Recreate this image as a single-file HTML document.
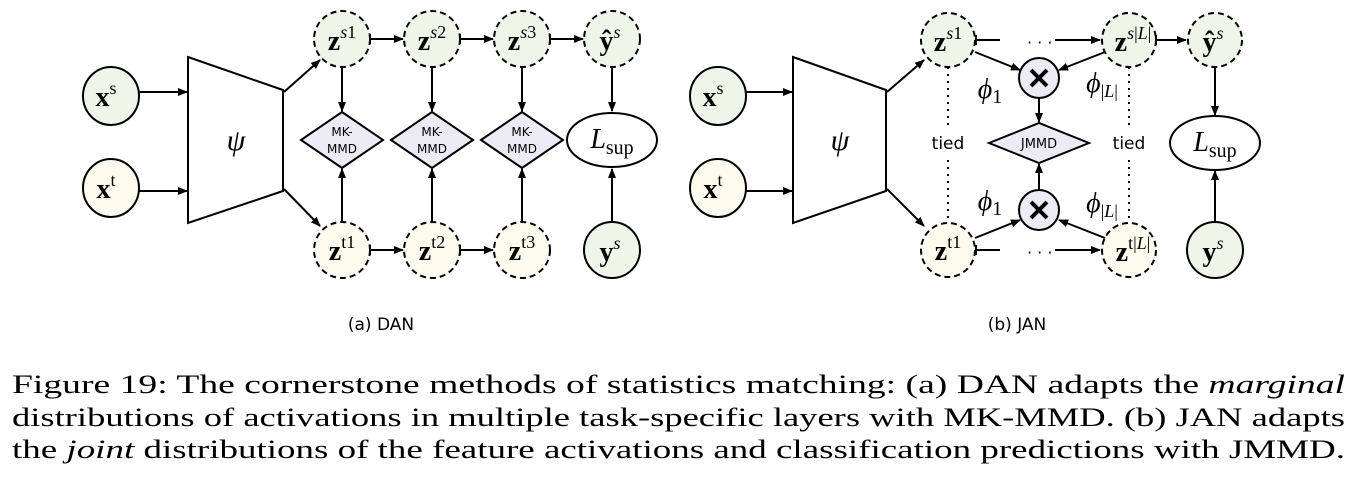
<!DOCTYPE html>
<html><head><meta charset="utf-8"><style>
html,body{margin:0;padding:0;background:#fff}
svg{display:block}
.m{font-family:"Liberation Serif",serif}
.s{font-family:"DejaVu Sans","Liberation Sans",sans-serif}
</style></head><body>
<svg width="1358" height="498" viewBox="0 0 1358 498" xmlns="http://www.w3.org/2000/svg">
<defs>
<marker id="a" markerWidth="10" markerHeight="8" refX="9" refY="4" orient="auto" markerUnits="userSpaceOnUse"><path d="M0,0 L10,4 L0,8 z" fill="#000"/></marker>
</defs>
<g stroke="#000" stroke-width="2" fill="none">
<!-- DAN -->
<ellipse cx="111" cy="96" rx="28" ry="29" fill="#eef6ea"/>
<ellipse cx="111" cy="188" rx="28" ry="29" fill="#fcfbee"/>
<line x1="139" y1="92" x2="187" y2="92" marker-end="url(#a)"/>
<line x1="139" y1="191" x2="187" y2="191" marker-end="url(#a)"/>
<path d="M188,57 L283,90 L283,191 L188,223 Z" fill="#fff"/>
<line x1="284" y1="92" x2="320" y2="60" marker-end="url(#a)"/>
<line x1="284" y1="189" x2="320" y2="226" marker-end="url(#a)"/>
<g stroke-dasharray="6,4">
<circle cx="342" cy="39" r="28" fill="#eef6ea"/>
<circle cx="432" cy="39" r="28" fill="#eef6ea"/>
<circle cx="522" cy="39" r="28" fill="#eef6ea"/>
<circle cx="612" cy="39" r="28" fill="#eef6ea"/>
<circle cx="342" cy="250" r="28" fill="#fcfbee"/>
<circle cx="432" cy="250" r="28" fill="#fcfbee"/>
<circle cx="522" cy="250" r="28" fill="#fcfbee"/>
</g>
<circle cx="612" cy="250" r="28" fill="#eef6ea"/>
<line x1="370" y1="39" x2="403" y2="39" marker-end="url(#a)"/><line x1="370" y1="34" x2="370" y2="44"/>
<line x1="460" y1="39" x2="493" y2="39" marker-end="url(#a)"/><line x1="460" y1="34" x2="460" y2="44"/>
<line x1="550" y1="39" x2="583" y2="39" marker-end="url(#a)"/><line x1="550" y1="34" x2="550" y2="44"/>
<line x1="370" y1="250" x2="403" y2="250" marker-end="url(#a)"/><line x1="370" y1="245" x2="370" y2="255"/>
<line x1="460" y1="250" x2="493" y2="250" marker-end="url(#a)"/><line x1="460" y1="245" x2="460" y2="255"/>
<path d="M301,140 L342,112 L383,140 L342,168 Z" fill="#eceaf4"/>
<path d="M391,140 L432,112 L473,140 L432,168 Z" fill="#eceaf4"/>
<path d="M481,140 L522,112 L563,140 L522,168 Z" fill="#eceaf4"/>
<line x1="342" y1="67" x2="342" y2="111" marker-end="url(#a)"/>
<line x1="432" y1="67" x2="432" y2="111" marker-end="url(#a)"/>
<line x1="522" y1="67" x2="522" y2="111" marker-end="url(#a)"/>
<line x1="612" y1="67" x2="612" y2="111" marker-end="url(#a)"/>
<line x1="342" y1="222" x2="342" y2="169" marker-end="url(#a)"/>
<line x1="432" y1="222" x2="432" y2="169" marker-end="url(#a)"/>
<line x1="522" y1="222" x2="522" y2="169" marker-end="url(#a)"/>
<line x1="612" y1="222" x2="612" y2="169" marker-end="url(#a)"/>
<ellipse cx="612" cy="140" rx="45" ry="27" fill="#fff"/>
<!-- JAN -->
<ellipse cx="718" cy="96" rx="28" ry="29" fill="#eef6ea"/>
<ellipse cx="718" cy="188" rx="28" ry="29" fill="#fcfbee"/>
<line x1="746" y1="92" x2="792" y2="92" marker-end="url(#a)"/>
<line x1="746" y1="191" x2="792" y2="191" marker-end="url(#a)"/>
<path d="M793,57 L886,90 L886,191 L793,223 Z" fill="#fff"/>
<line x1="887" y1="92" x2="924" y2="60" marker-end="url(#a)"/>
<line x1="887" y1="189" x2="924" y2="226" marker-end="url(#a)"/>
<g stroke-dasharray="2,5" stroke-width="2"><line x1="948" y1="67" x2="948" y2="125"/><line x1="948" y1="160" x2="948" y2="222"/><line x1="1129" y1="67" x2="1129" y2="125"/><line x1="1129" y1="160" x2="1129" y2="222"/></g>
<g stroke-dasharray="6,4">
<circle cx="948" cy="40" r="27" fill="#eef6ea"/>
<circle cx="1129" cy="40" r="27" fill="#eef6ea"/>
<circle cx="1215" cy="40" r="27" fill="#eef6ea"/>
<circle cx="948" cy="250" r="27" fill="#fcfbee"/>
<circle cx="1129" cy="250" r="27" fill="#fcfbee"/>
</g>
<circle cx="1215" cy="250" r="28" fill="#eef6ea"/>
<line x1="976" y1="40" x2="1000" y2="40"/><line x1="976" y1="35" x2="976" y2="45"/>
<line x1="1055" y1="40" x2="1100" y2="40" marker-end="url(#a)"/>
<line x1="976" y1="250" x2="1000" y2="250"/><line x1="976" y1="245" x2="976" y2="255"/>
<line x1="1055" y1="250" x2="1100" y2="250" marker-end="url(#a)"/>
<line x1="1156" y1="40" x2="1186" y2="40" marker-end="url(#a)"/><line x1="1156" y1="35" x2="1156" y2="45"/>
<line x1="975" y1="52" x2="1020" y2="70" marker-end="url(#a)"/>
<line x1="1105" y1="52" x2="1059" y2="70" marker-end="url(#a)"/>
<line x1="975" y1="238" x2="1020" y2="220" marker-end="url(#a)"/>
<line x1="1105" y1="238" x2="1059" y2="220" marker-end="url(#a)"/>
<circle cx="1039" cy="78" r="20" fill="#eceaf4"/>
<circle cx="1039" cy="210" r="20" fill="#eceaf4"/>
<path d="M1031,70 L1047,86 M1047,70 L1031,86" stroke-width="4"/>
<path d="M1031,202 L1047,218 M1047,202 L1031,218" stroke-width="4"/>
<line x1="1039" y1="98" x2="1039" y2="122" marker-end="url(#a)"/>
<line x1="1039" y1="190" x2="1039" y2="164" marker-end="url(#a)"/>
<path d="M989,143 L1039,123 L1089,143 L1039,163 Z" fill="#eceaf4"/>
<line x1="1215" y1="67" x2="1215" y2="115" marker-end="url(#a)"/>
<line x1="1215" y1="222" x2="1215" y2="171" marker-end="url(#a)"/>
<ellipse cx="1215" cy="143" rx="45" ry="27" fill="#fff"/>
</g>
<g fill="#000">
<text class="s" x="1027" y="48" font-size="16">· · ·</text>
<text class="s" x="1027" y="258" font-size="16">· · ·</text>
<g class="m" font-size="28" text-anchor="middle">
<text x="106" y="106"><tspan font-weight="bold">x</tspan><tspan font-size="18" dy="-12">s</tspan></text>
<text x="106" y="198"><tspan font-weight="bold">x</tspan><tspan font-size="18" dy="-12">t</tspan></text>
<text x="713" y="106"><tspan font-weight="bold">x</tspan><tspan font-size="18" dy="-12">s</tspan></text>
<text x="713" y="198"><tspan font-weight="bold">x</tspan><tspan font-size="18" dy="-12">t</tspan></text>
<text x="236" y="150" font-style="italic" font-size="30">ψ</text>
<text x="840" y="150" font-style="italic" font-size="30">ψ</text>
<text x="342" y="50"><tspan font-weight="bold">z</tspan><tspan font-size="18" dy="-12" font-style="italic">s</tspan><tspan font-size="18">1</tspan></text>
<text x="432" y="50"><tspan font-weight="bold">z</tspan><tspan font-size="18" dy="-12" font-style="italic">s</tspan><tspan font-size="18">2</tspan></text>
<text x="522" y="50"><tspan font-weight="bold">z</tspan><tspan font-size="18" dy="-12" font-style="italic">s</tspan><tspan font-size="18">3</tspan></text>
<text x="610" y="50"><tspan font-weight="bold">ŷ</tspan><tspan font-size="18" dy="-12" font-style="italic">s</tspan></text>
<text x="342" y="260"><tspan font-weight="bold">z</tspan><tspan font-size="18" dy="-12">t1</tspan></text>
<text x="432" y="260"><tspan font-weight="bold">z</tspan><tspan font-size="18" dy="-12">t2</tspan></text>
<text x="522" y="260"><tspan font-weight="bold">z</tspan><tspan font-size="18" dy="-12">t3</tspan></text>
<text x="610" y="261"><tspan font-weight="bold">y</tspan><tspan font-size="18" dy="-12" font-style="italic">s</tspan></text>
<text x="612" y="148"><tspan font-style="italic">L</tspan><tspan font-size="20" dy="6">sup</tspan></text>
<text x="948" y="51"><tspan font-weight="bold">z</tspan><tspan font-size="18" dy="-12" font-style="italic">s</tspan><tspan font-size="18">1</tspan></text>
<text x="1133" y="51"><tspan font-weight="bold">z</tspan><tspan font-size="18" dy="-12" font-style="italic">s</tspan><tspan font-size="18">|</tspan><tspan font-size="18" font-style="italic">L</tspan><tspan font-size="18">|</tspan></text>
<text x="1213" y="51"><tspan font-weight="bold">ŷ</tspan><tspan font-size="18" dy="-12" font-style="italic">s</tspan></text>
<text x="948" y="260"><tspan font-weight="bold">z</tspan><tspan font-size="18" dy="-12">t1</tspan></text>
<text x="1133" y="261"><tspan font-weight="bold">z</tspan><tspan font-size="18" dy="-12">t|</tspan><tspan font-size="18" font-style="italic">L</tspan><tspan font-size="18">|</tspan></text>
<text x="1213" y="261"><tspan font-weight="bold">y</tspan><tspan font-size="18" dy="-12" font-style="italic">s</tspan></text>
<text x="1215" y="151"><tspan font-style="italic">L</tspan><tspan font-size="20" dy="6">sup</tspan></text>
<text x="990" y="98"><tspan font-style="italic">ϕ</tspan><tspan font-size="20" dy="5">1</tspan></text>
<text x="1102" y="92"><tspan font-style="italic">ϕ</tspan><tspan font-size="18" dy="5">|</tspan><tspan font-size="18" font-style="italic">L</tspan><tspan font-size="18">|</tspan></text>
<text x="990" y="210"><tspan font-style="italic">ϕ</tspan><tspan font-size="20" dy="5">1</tspan></text>
<text x="1102" y="212"><tspan font-style="italic">ϕ</tspan><tspan font-size="18" dy="5">|</tspan><tspan font-size="18" font-style="italic">L</tspan><tspan font-size="18">|</tspan></text>
</g>
<g class="s" font-size="12" text-anchor="middle">
<text x="342" y="136">MK-</text><text x="342" y="153">MMD</text>
<text x="432" y="136">MK-</text><text x="432" y="153">MMD</text>
<text x="522" y="136">MK-</text><text x="522" y="153">MMD</text>
<text x="1039" y="148" font-size="13">JMMD</text>
<text x="948" y="149" font-size="17">tied</text>
<text x="1129" y="149" font-size="17">tied</text>
<text x="381" y="330" font-size="17">(a) DAN</text>
<text x="1017" y="330" font-size="17">(b) JAN</text>
</g>
<g class="m" font-size="26">
<text x="12" y="393" textLength="1333" lengthAdjust="spacingAndGlyphs">Figure 19: The cornerstone methods of statistics matching: (a) DAN adapts the <tspan font-style="italic">marginal</tspan></text>
<text x="12" y="426" textLength="1333" lengthAdjust="spacingAndGlyphs">distributions of activations in multiple task-specific layers with MK-MMD. (b) JAN adapts</text>
<text x="12" y="458" textLength="1333" lengthAdjust="spacingAndGlyphs">the <tspan font-style="italic">joint</tspan> distributions of the feature activations and classification predictions with JMMD.</text>
</g>
</g>
</svg>
</body></html>
